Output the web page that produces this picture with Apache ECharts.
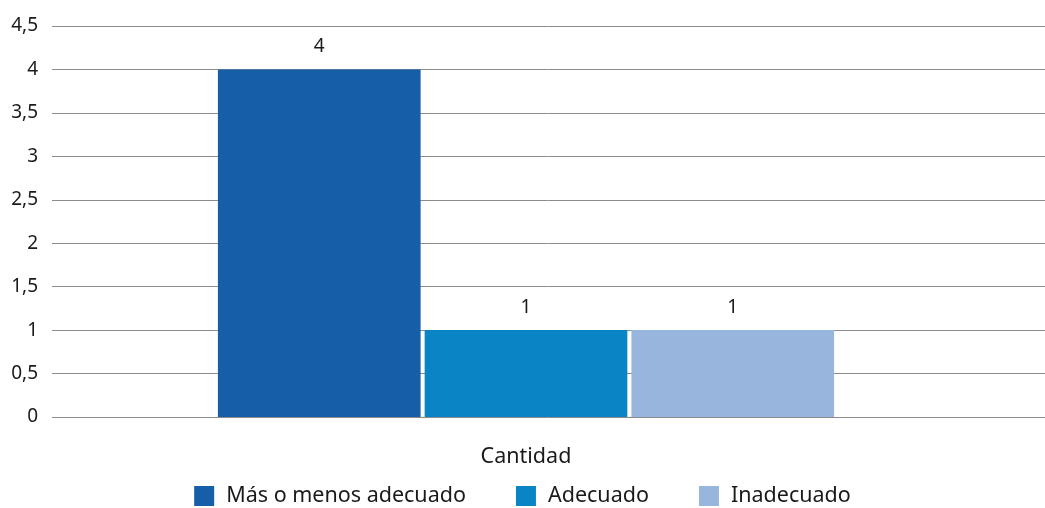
<!DOCTYPE html>
<html><head><meta charset="utf-8">
<script src="https://cdn.jsdelivr.net/npm/echarts@6/dist/echarts.min.js"></script>
<style>html,body{margin:0;padding:0;background:#fff}#c{width:1045px;height:508px}</style>
</head><body><div id="c"></div>
<script>
const categories = ['Cantidad'];
const seriesNames = ['Más o menos adecuado', 'Adecuado', 'Inadecuado'];
const seriesValues = [[4], [1], [1]];
const colors = ['#165EA8', '#0B84C6', '#98B5DD'];
const yTicks = [0, 0.5, 1, 1.5, 2, 2.5, 3, 3.5, 4, 4.5];

const font = 'Noto Sans';
const chart = echarts.init(document.getElementById('c'));
const fmt = v => String(v).replace('.', ',');
chart.setOption({
  animation: false,
  textStyle: { fontFamily: font },
  legend: {
    bottom: -4, left: 'center', itemWidth: 20, itemHeight: 20, itemGap: 50,
    icon: 'rect',
    textStyle: { fontSize: 21.5, color: '#1a1a1a', fontFamily: font, padding: [0, 0, 0, 7] },
    data: seriesNames
  },
  grid: [
    { left: 52, right: 0, top: 26, bottom: 91 },
    { left: 52, right: 45, top: 26, bottom: 91 }
  ],
  xAxis: [
    { gridIndex: 0, type: 'category', data: categories, show: false },
    { gridIndex: 1, type: 'category', data: categories,
      axisLine: { show: false }, axisTick: { show: false },
      axisLabel: { fontSize: 21.5, color: '#1a1a1a', margin: 29, fontFamily: font } }
  ],
  yAxis: [
    { gridIndex: 0, type: 'value', min: 0, max: yTicks[yTicks.length-1], interval: 0.5,
      axisLabel: { show: false }, axisLine: { show: false }, axisTick: { show: false },
      splitLine: { lineStyle: { color: '#8c8c8c', width: 1 } } },
    { gridIndex: 1, type: 'value', min: 0, max: yTicks[yTicks.length-1], interval: 0.5,
      splitLine: { show: false }, axisLine: { show: false }, axisTick: { show: false },
      axisLabel: { fontSize: 19, color: '#1a1a1a', margin: 14, formatter: fmt, fontFamily: font } }
  ],
  series: seriesNames.map((n, i) => ({
    name: n, type: 'bar', xAxisIndex: 1, yAxisIndex: 1,
    data: seriesValues[i],
    barGap: '2%', barCategoryGap: '35%',
    itemStyle: { color: colors[i] },
    label: { show: true, position: 'top', distance: 13, fontSize: 19, color: '#1a1a1a', fontFamily: font, formatter: p => fmt(p.value) }
  }))
});
</script></body></html>
